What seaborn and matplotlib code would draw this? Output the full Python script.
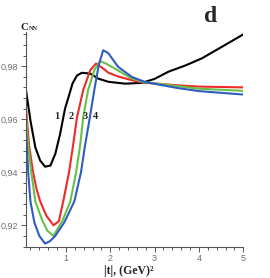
import numpy as np
import pandas as pd
import seaborn as sns
import matplotlib
matplotlib.use('Agg')
from matplotlib import pyplot as plt
from matplotlib.ticker import FixedLocator, MultipleLocator

# |t| values and C_NN, one pair of lists per curve
t_1 = [0.10, 0.20, 0.31, 0.42, 0.53, 0.65, 0.76, 0.87, 0.98, 1.06, 1.15, 1.25,
       1.36, 1.55, 1.73, 1.96, 2.34, 2.71, 3.00, 3.31, 3.70, 4.06, 4.59, 5.00]
c_1 = [0.9709, 0.9595, 0.9494, 0.9444, 0.9421, 0.9425, 0.9469, 0.9545, 0.9640,
       0.9684, 0.9735, 0.9765, 0.9775, 0.9772, 0.9753, 0.9741, 0.9734, 0.9737,
       0.9752, 0.9779, 0.9803, 0.9829, 0.9880, 0.9920]

t_2 = [0.10, 0.17, 0.26, 0.34, 0.42, 0.56, 0.72, 0.84, 0.94, 1.07, 1.16, 1.25,
       1.39, 1.55, 1.68, 1.85, 1.96, 2.20, 2.49, 2.75, 3.50, 4.00, 5.00]
c_2 = [0.9640, 0.9500, 0.9400, 0.9335, 0.9290, 0.9236, 0.9200, 0.9215, 0.9290,
       0.9400, 0.9500, 0.9607, 0.9710, 0.9785, 0.9810, 0.9790, 0.9775, 0.9760,
       0.9747, 0.9738, 0.9728, 0.9723, 0.9720]

t_3 = [0.10, 0.15, 0.22, 0.31, 0.47, 0.58, 0.72, 0.92, 1.10, 1.23, 1.32, 1.39,
       1.50, 1.64, 1.77, 1.90, 2.04, 2.49, 2.75, 3.50, 4.00, 5.00]
c_3 = [0.9614, 0.9500, 0.9400, 0.9290, 0.9217, 0.9180, 0.9160, 0.9217, 0.9290,
       0.9400, 0.9500, 0.9607, 0.9710, 0.9785, 0.9819, 0.9810, 0.9797, 0.9753,
       0.9740, 0.9725, 0.9715, 0.9707]

t_4 = [0.10, 0.15, 0.20, 0.29, 0.40, 0.53, 0.64, 0.76, 0.96, 1.19, 1.34, 1.43,
       1.54, 1.64, 1.74, 1.84, 1.95, 2.18, 2.49, 2.79, 3.50, 4.00, 5.00]
c_4 = [0.9558, 0.9400, 0.9290, 0.9210, 0.9160, 0.9131, 0.9140, 0.9160, 0.9210,
       0.9290, 0.9400, 0.9500, 0.9607, 0.9710, 0.9804, 0.9860, 0.9850, 0.9797,
       0.9759, 0.9740, 0.9718, 0.9706, 0.9693]

curve_names = ['1', '2', '3', '4']
curve_colors = ['#000000', '#ee2b2b', '#69c046', '#2f5cc0']
label_x = [0.80, 1.13, 1.43, 1.66]
label_y = 0.9611

y_ticks = [0.92, 0.94, 0.96, 0.98]
y_tick_labels = ['0,92', '0,94', '0,96', '0,98']
x_ticks = [1, 2, 3, 4, 5]
x_tick_labels = ['1', '2', '3', '4', '5']


def build_frame():
    parts = []
    for name, t, c in zip(curve_names, [t_1, t_2, t_3, t_4], [c_1, c_2, c_3, c_4]):
        parts.append(pd.DataFrame({'t': t, 'cnn': c, 'curve': name}))
    return pd.concat(parts, ignore_index=True)


def main():
    sns.set_style('ticks')
    serif = ['Liberation Serif', 'DejaVu Serif']
    grey = '#707070'

    fig = plt.figure(figsize=(2.70, 2.78), dpi=100)
    ax = fig.add_axes([0.0963, 0.1133, 0.8048, 0.7727])

    df = build_frame()
    sns.lineplot(data=df, x='t', y='cnn', hue='curve', hue_order=curve_names,
                 palette=curve_colors, estimator=None, sort=False,
                 linewidth=1.5, legend=False, ax=ax)

    ax.set_xlim(0.1, 5.0)
    ax.set_ylim(0.912, 0.993)
    sns.despine(ax=ax)
    for side in ['left', 'bottom']:
        ax.spines[side].set_color('#555555')
        ax.spines[side].set_linewidth(0.8)

    ax.xaxis.set_major_locator(FixedLocator(x_ticks))
    ax.set_xticklabels(x_tick_labels)
    ax.xaxis.set_minor_locator(MultipleLocator(0.2))
    ax.yaxis.set_major_locator(FixedLocator(y_ticks))
    ax.set_yticklabels(y_tick_labels)
    ax.yaxis.set_minor_locator(MultipleLocator(0.004))
    ax.tick_params(which='both', direction='out', color='#555555', width=0.7,
                   labelsize=6.5, labelcolor=grey, pad=2)
    ax.tick_params(which='major', length=3.5)
    ax.tick_params(which='minor', length=2.5)
    for lab in ax.get_xticklabels() + ax.get_yticklabels():
        lab.set_family(['Liberation Sans', 'DejaVu Sans'])
    ax.set_xlabel('')
    ax.set_ylabel('')

    for name, x in zip(curve_names, label_x):
        ax.text(x, label_y, name, ha='center', va='center', fontsize=7.5,
                fontweight='bold', family=serif)

    # C_NN axis title: capital C with a small NN next to it
    fig.text(20.5 / 270, 1 - 29.5 / 278, 'C', fontsize=8, fontweight='bold',
             family=serif, ha='left', va='baseline')
    fig.text(28.5 / 270, 1 - 29.5 / 278, 'NN', fontsize=4.5, fontweight='bold',
             family=serif, ha='left', va='baseline')
    fig.text(211 / 270, 1 - 21.5 / 278, 'd', fontsize=17, fontweight='bold',
             family=serif, ha='center', va='baseline')
    fig.text(129 / 270, 1 - 274 / 278, '|t|, (GeV)²', fontsize=8.5,
             fontweight='bold', family=serif, ha='center', va='baseline')

    fig.savefig('out.png', dpi=100)


if __name__ == '__main__':
    main()
